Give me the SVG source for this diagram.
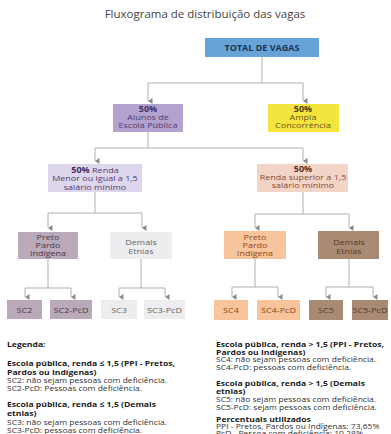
<svg xmlns="http://www.w3.org/2000/svg" width="391" height="434" viewBox="0 0 391 434">
<defs>
<style>
text{font-family:"Open Sans","DejaVu Sans",sans-serif;transform-box:fill-box;transform-origin:center;transform:scale(1,0.88);}
.t{font-size:9px;text-anchor:middle;}
.b{font-weight:bold;}
.ln{stroke:#b0b0b0;stroke-width:1;fill:none;}
.lg{font-size:8.5px;fill:#333;}
.lgb{font-size:8.6px;font-weight:bold;fill:#222;}
</style>
<marker id="ah" markerWidth="6" markerHeight="5" refX="3" refY="4.5" orient="auto" markerUnits="userSpaceOnUse" viewBox="0 0 6 5">
<path d="M0,0 L6,0 L3,4.5 Z" fill="#8a8a8a"/>
</marker>
</defs>
<rect width="391" height="434" fill="#ffffff"/>
<text x="205" y="19" font-size="11.5" fill="#444" text-anchor="middle">Fluxograma de distribuição das vagas</text>

<g id="connectors">
<path class="ln" d="M262,57 V83 H148 V101" marker-end="url(#ah)"/>
<path class="ln" d="M262,83 H303 V101" marker-end="url(#ah)"/>
<path class="ln" d="M148,132 V148 H95 V161" marker-end="url(#ah)"/>
<path class="ln" d="M148,148 H303 V161" marker-end="url(#ah)"/>
<path class="ln" d="M95,192 V213 H48 V228" marker-end="url(#ah)"/>
<path class="ln" d="M95,213 H142 V228" marker-end="url(#ah)"/>
<path class="ln" d="M303,192 V214 H255 V228" marker-end="url(#ah)"/>
<path class="ln" d="M303,214 H349 V228" marker-end="url(#ah)"/>
<path class="ln" d="M48,259 V288 H25 V297" marker-end="url(#ah)"/>
<path class="ln" d="M48,288 H71 V297" marker-end="url(#ah)"/>
<path class="ln" d="M141,259 V288 H119 V297" marker-end="url(#ah)"/>
<path class="ln" d="M141,288 H165 V297" marker-end="url(#ah)"/>
<path class="ln" d="M255,259 V287 H232 V297" marker-end="url(#ah)"/>
<path class="ln" d="M255,287 H278 V297" marker-end="url(#ah)"/>
<path class="ln" d="M349,259 V287 H326 V297" marker-end="url(#ah)"/>
<path class="ln" d="M349,287 H373 V297" marker-end="url(#ah)"/>
</g>

<g id="total">
<rect x="205" y="38" width="114" height="19" fill="#67a3d6"/>
<text class="t b" x="262" y="51" fill="#1f3458">TOTAL DE VAGAS</text>
</g>
<g id="escola-publica">
<rect x="113" y="104" width="70" height="28" fill="#b3a2d0"/>
<text class="t b" x="148" y="112.5" font-size="9.5" fill="#3e2e5e">50%</text>
<text class="t" x="148" y="120.5" fill="#4d3d70">Alunos de</text>
<text class="t" x="148" y="128.5" fill="#4d3d70">Escola Pública</text>
</g>
<g id="ampla">
<rect x="268" y="104" width="71" height="28" fill="#f4e53e"/>
<text class="t b" x="303" y="112.5" font-size="9.5" fill="#4a3e10">50%</text>
<text class="t" x="303" y="120.5" fill="#6a5618">Ampla</text>
<text class="t" x="303" y="128.5" fill="#6a5618">Concorrência</text>
</g>
<g id="renda-menor">
<rect x="48" y="164" width="94" height="28" fill="#ddd6ec"/>
<text class="t" x="95" y="173" fill="#4d3d70"><tspan class="b" fill="#3e2e5e">50%</tspan> Renda</text>
<text class="t" x="95" y="181.5" fill="#4d3d70">Menor ou igual a 1,5</text>
<text class="t" x="95" y="190" fill="#4d3d70">salário mínimo</text>
</g>
<g id="renda-superior">
<rect x="257" y="164" width="91" height="28" fill="#f2d5c7"/>
<text class="t b" x="303" y="172.5" fill="#5a2e1e">50%</text>
<text class="t" x="303" y="180.5" fill="#8b4a32">Renda superior a 1,5</text>
<text class="t" x="303" y="188.5" fill="#8b4a32">salário mínimo</text>
</g>
<g id="ppi-1">
<rect x="18" y="232" width="60" height="27" fill="#b9a9b9"/>
<text class="t" x="48" y="240.5" fill="#4a3a4a">Preto</text>
<text class="t" x="48" y="248.5" fill="#4a3a4a">Pardo</text>
<text class="t" x="48" y="256.5" fill="#4a3a4a">Indígena</text>
</g>
<g id="demais-1">
<rect x="110" y="232" width="62" height="27" fill="#ededf0"/>
<text class="t" x="141" y="245" fill="#666">Demais</text>
<text class="t" x="141" y="254" fill="#666">Etnias</text>
</g>
<g id="ppi-2">
<rect x="224" y="231" width="62" height="28" fill="#f8c49b"/>
<text class="t" x="255" y="240.5" fill="#8b4a22">Preto</text>
<text class="t" x="255" y="248.5" fill="#8b4a22">Pardo</text>
<text class="t" x="255" y="256.5" fill="#8b4a22">Indígena</text>
</g>
<g id="demais-2">
<rect x="318" y="231" width="61" height="28" fill="#a98b73"/>
<text class="t" x="349" y="245" fill="#5a3626">Demais</text>
<text class="t" x="349" y="254" fill="#5a3626">Etnias</text>
</g>
<g id="sc2"><rect x="7" y="300" width="35" height="19" fill="#b9a9b9"/><text class="t" x="24.5" y="313" fill="#4a3a4a">SC2</text></g>
<g id="sc2-pcd"><rect x="50" y="300" width="42" height="19" fill="#b9a9b9"/><text class="t" x="71" y="313" fill="#4a3a4a">SC2-PcD</text></g>
<g id="sc3"><rect x="101" y="300" width="36" height="19" fill="#ededf0"/><text class="t" x="119" y="313" fill="#666">SC3</text></g>
<g id="sc3-pcd"><rect x="144" y="300" width="41" height="19" fill="#ededf0"/><text class="t" x="164.5" y="313" fill="#666">SC3-PcD</text></g>
<g id="sc4"><rect x="214" y="300" width="34" height="20" fill="#f8c49b"/><text class="t" x="231" y="313.5" fill="#8b4a22">SC4</text></g>
<g id="sc4-pcd"><rect x="257" y="300" width="43" height="20" fill="#f8c49b"/><text class="t" x="278.5" y="313.5" fill="#8b4a22">SC4-PcD</text></g>
<g id="sc5"><rect x="309" y="300" width="34" height="20" fill="#a98b73"/><text class="t" x="326" y="313.5" fill="#5a3626">SC5</text></g>
<g id="sc5-pcd"><rect x="352" y="300" width="36" height="20" fill="#a98b73"/><text class="t" x="370" y="313.5" fill="#5a3626">SC5-PcD</text></g>

<g id="legend">
<text class="lgb" x="7" y="347">Legenda:</text>
<text class="lgb" x="7" y="366">Escola pública, renda ≤  1,5 (PPI - Pretos,</text>
<text class="lgb" x="7" y="375">Pardos ou Indígenas)</text>
<text class="lg" x="7" y="383">SC2: não sejam pessoas com deficiência.</text>
<text class="lg" x="7" y="391">SC2-PcD: Pessoas com deficiência.</text>
<text class="lgb" x="7" y="407">Escola pública, renda ≤ 1,5 (Demais</text>
<text class="lgb" x="7" y="416">etnias)</text>
<text class="lg" x="7" y="425">SC3: não sejam pessoas com deficiência.</text>
<text class="lg" x="7" y="433">SC3-PcD: pessoas com deficiência.</text>

<text class="lgb" x="216" y="347">Escola pública, renda &gt; 1,5 (PPI - Pretos,</text>
<text class="lgb" x="216" y="355">Pardos ou Indígenas)</text>
<text class="lg" x="216" y="362.5">SC4: não sejam pessoas com deficiência.</text>
<text class="lg" x="216" y="370">SC4-PcD: pessoas com deficiência.</text>
<text class="lgb" x="216" y="386">Escola pública, renda &gt; 1,5 (Demais</text>
<text class="lgb" x="216" y="394">etnias)</text>
<text class="lg" x="216" y="402">SC5: não sejam pessoas com deficiência.</text>
<text class="lg" x="216" y="410">SC5-PcD: sejam pessoas com deficiência.</text>
<text class="lgb" x="216" y="422" font-size="6.5">Percentuais utilizados</text>
<text class="lg" x="216" y="429.5" font-size="6.3">PPI - Pretos, Pardos ou Indígenas: 73,65%</text>
<text class="lg" x="216" y="436" font-size="6.3">PcD - Pessoa com deficiência: 10,28%</text>
</g>
</svg>
